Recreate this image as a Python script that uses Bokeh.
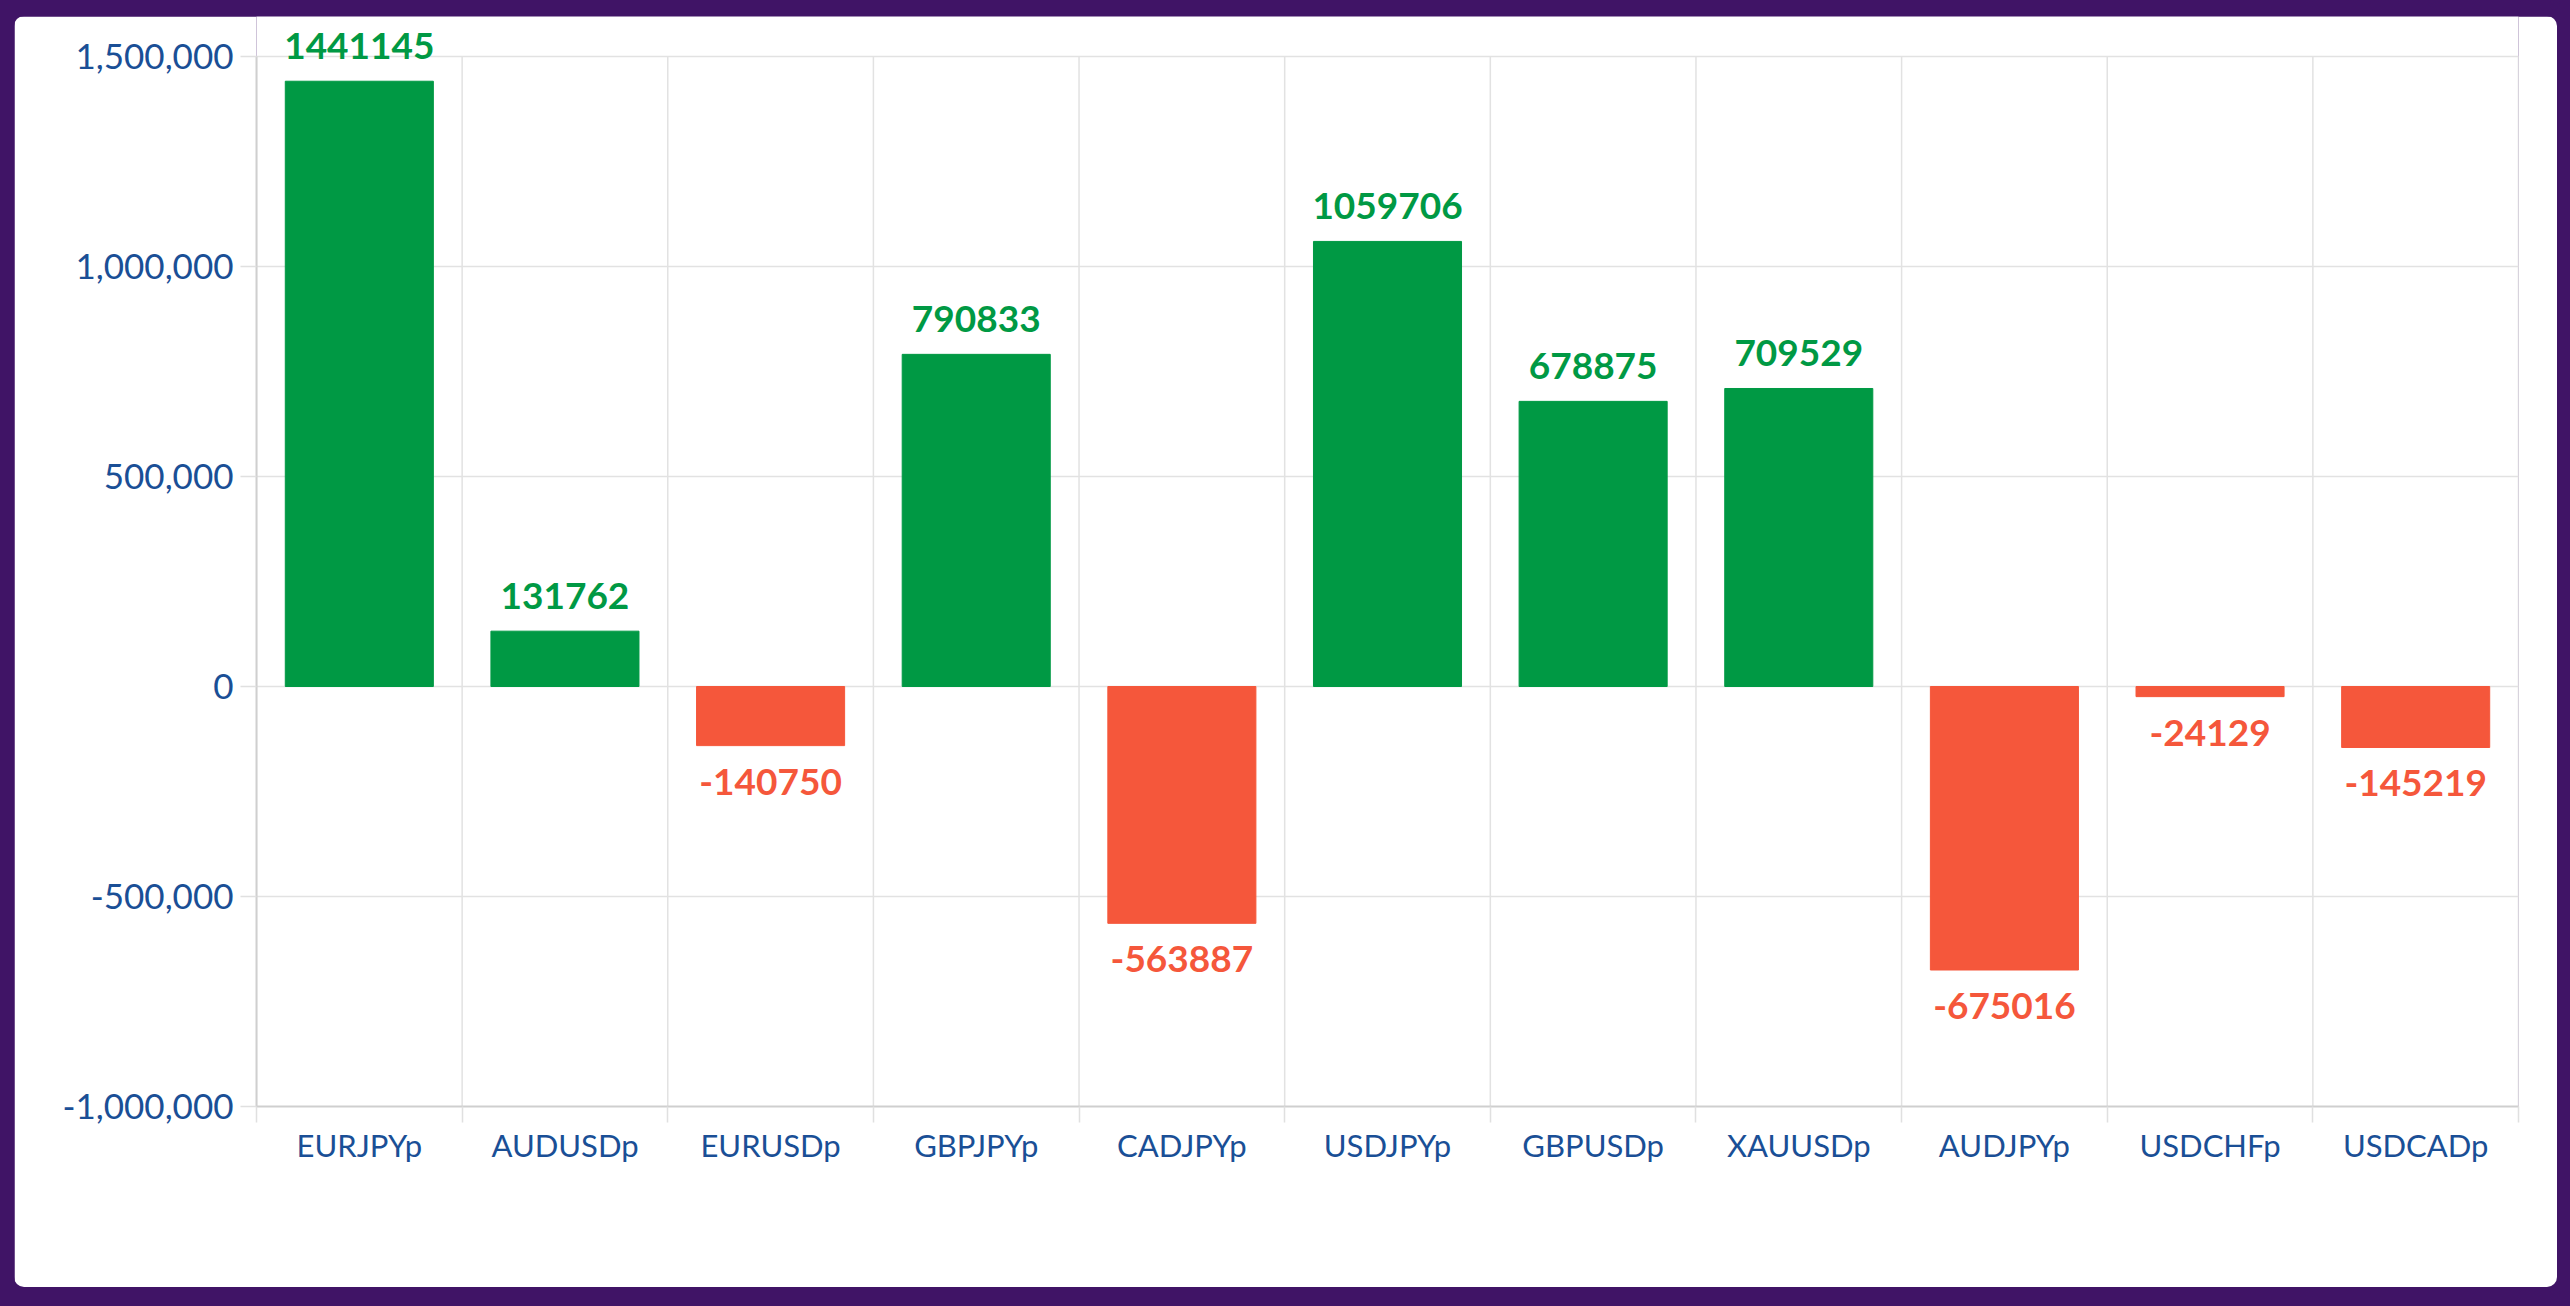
from bokeh.plotting import figure
from bokeh.models import (Range1d, FixedTicker, NumeralTickFormatter, LabelSet,
                          ColumnDataSource, GlobalInlineStyleSheet)
from bokeh.core.properties import value
from bokeh.embed import file_html
from bokeh.resources import INLINE

# ---- data ----
symbols = ["EURJPYp", "AUDUSDp", "EURUSDp", "GBPJPYp", "CADJPYp", "USDJPYp",
           "GBPUSDp", "XAUUSDp", "AUDJPYp", "USDCHFp", "USDCADp"]
profits = [1441145, 131762, -140750, 790833, -563887, 1059706,
           678875, 709529, -675016, -24129, -145219]
y_ticks = [-1000000, -500000, 0, 500000, 1000000, 1500000]
y_min, y_max = -1000000, 1500000

GREEN = "#009944"
RED = "#f5573b"
BLUE = "#1a4f96"
PURPLE = "#401466"

# layout constants (pixels)
PLOT_H = 1050      # height of the value area (y_min..y_max)
TOP_PAD = 40       # room above y_max for the value labels
y_top = y_max + TOP_PAD * (y_max - y_min) / PLOT_H

idx = list(range(len(symbols)))
colors = [GREEN if v >= 0 else RED for v in profits]
src = ColumnDataSource(dict(x=idx, top=profits, color=colors))
pos = ColumnDataSource(dict(x=[i for i, v in zip(idx, profits) if v >= 0],
                            y=[v for v in profits if v >= 0],
                            label=[str(v) for v in profits if v >= 0]))
neg = ColumnDataSource(dict(x=[i for i, v in zip(idx, profits) if v < 0],
                            y=[v for v in profits if v < 0],
                            label=[str(v) for v in profits if v < 0]))

css = f"body{{background:{PURPLE}; margin:0; padding:16px 0 0 14px;}}"
p = figure(output_backend="svg", toolbar_location=None,
           frame_width=2262, frame_height=PLOT_H + TOP_PAD,
           x_range=Range1d(-0.5, len(symbols) - 0.5),
           y_range=Range1d(y_min, y_top),
           min_border_left=242, min_border_right=39,
           min_border_top=0, min_border_bottom=181,
           background_fill_color="white", border_fill_color="white",
           styles={"border-radius": "10px", "overflow": "hidden"},
           stylesheets=[GlobalInlineStyleSheet(css=css)])
p.outline_line_color = None

boundaries = [i - 0.5 for i in range(len(symbols) + 1)]

# vertical category separators (only inside y_min..y_max)
p.segment(x0=boundaries, y0=[y_min] * len(boundaries),
          x1=boundaries, y1=[y_max] * len(boundaries),
          line_color="#e2e2e2", line_width=1.5, level="underlay")
p.xgrid.visible = False

p.vbar(x="x", top="top", bottom=0, width=0.72, color="color", source=src)

# x axis
p.xaxis.ticker = FixedTicker(ticks=idx, minor_ticks=boundaries)
p.xaxis.major_label_overrides = {i: s for i, s in zip(idx, symbols)}
p.xaxis.major_tick_out = 0
p.xaxis.major_tick_in = 0
p.xaxis.minor_tick_out = 16
p.xaxis.minor_tick_in = 0
p.xaxis.minor_tick_line_color = "#e0e0e0"
p.xaxis.minor_tick_line_width = 1.5
p.xaxis.axis_line_color = "#cfcfcf"
p.xaxis.axis_line_width = 2
p.xaxis.major_label_text_font = "Lato"
p.xaxis.major_label_text_font_size = "31px"
p.xaxis.major_label_text_color = BLUE
p.xaxis.major_label_standoff = 3

# y axis
p.yaxis.ticker = FixedTicker(ticks=y_ticks)
p.yaxis.bounds = (y_min, y_max)
p.yaxis.formatter = NumeralTickFormatter(format="0,0")
p.yaxis.major_tick_out = 16
p.yaxis.major_tick_in = 0
p.yaxis.major_tick_line_color = "#e0e0e0"
p.yaxis.major_tick_line_width = 1.5
p.yaxis.minor_tick_line_color = None
p.yaxis.axis_line_color = "#cfcfcf"
p.yaxis.axis_line_width = 2
p.yaxis.major_label_text_font = "Lato"
p.yaxis.major_label_text_font_size = "35px"
p.yaxis.major_label_text_color = BLUE
p.yaxis.major_label_standoff = 7

p.ygrid.grid_line_color = "#e2e2e2"
p.ygrid.grid_line_width = 1.5

# value labels
lab_pos = LabelSet(x="x", y="y", text="label", source=pos, text_align="center",
                   text_baseline="alphabetic", y_offset=22,
                   text_font=value("Lato"), text_font_style="bold",
                   text_font_size="37px", text_color=GREEN)
lab_neg = LabelSet(x="x", y="y", text="label", source=neg, text_align="center",
                   text_baseline="alphabetic", y_offset=-49,
                   text_font=value("Lato"), text_font_style="bold",
                   text_font_size="37px", text_color=RED)
p.add_layout(lab_pos)
p.add_layout(lab_neg)

open("out.html", "w").write(file_html(p, INLINE))
